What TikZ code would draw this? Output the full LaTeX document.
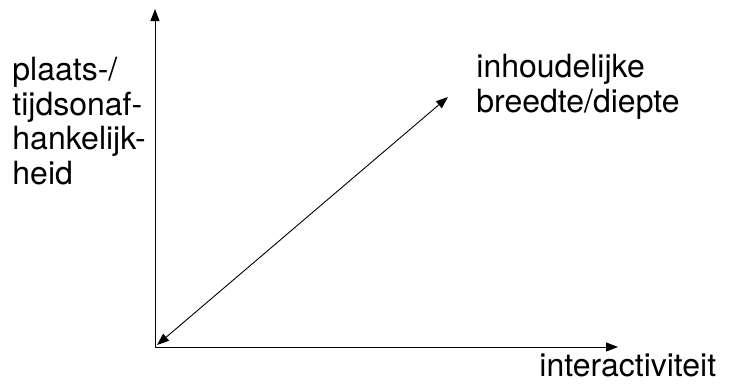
\documentclass[tikz,border=0pt]{standalone}
\usepackage{fontspec}
\setmainfont{TeX Gyre Heros}
\usetikzlibrary{arrows.meta,positioning}

\begin{document}
\begin{tikzpicture}[x=1pt,y=-1pt,>={Triangle[length=12pt,width=9pt]},line width=0.9pt,font=\fontsize{32}{34.5}\selectfont]
\tikzset{axis/.style={->,draw=black}, lbl/.style={inner sep=0pt,align=left,anchor=north west}}
\useasboundingbox (0,0) rectangle (731,383);
% axes
\coordinate (o) at (155,347);
\coordinate (ytop) at (155,9);
\coordinate (xend) at (618,347);
\draw[axis] (o) -- (ytop);
\draw[axis] (o) -- (xend);
% diagonal
\coordinate (dstart) at (157,345);
\coordinate (dend) at (448,97);
\draw[<->] (dstart) -- (dend);
% labels
\node[lbl] (plaats) at (12,57) {plaats-/\\tijdsonaf-\\hankelijk-\\heid};
\node[lbl] (inhoud) at (476,54) {inhoudelijke\\breedte/diepte};
\node[lbl] (interact) at (539,353) {interactiviteit};
\end{tikzpicture}
\end{document}
